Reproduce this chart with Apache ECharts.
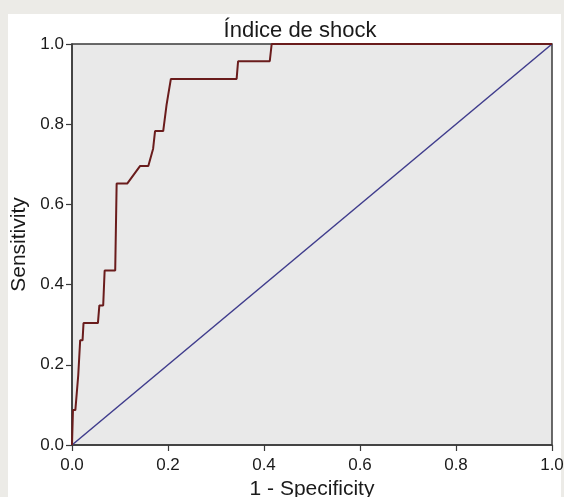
<!DOCTYPE html>
<html>
<head>
<meta charset="utf-8">
<script src="https://cdn.jsdelivr.net/npm/echarts@6/dist/echarts.min.js"></script>
<style>
  html, body { margin:0; padding:0; background:#ecebe7; }
  #panel { position:absolute; left:8px; top:14px; width:553px; height:483px; background:#ffffff; }
  #chart { position:absolute; left:0; top:0; width:564px; height:497px; }
</style>
</head>
<body>
<div id="panel"></div>
<div id="chart"></div>
<script>
// ROC curve coordinates (1 - Specificity, Sensitivity)
const fpr = [0.000, 0.002, 0.007, 0.013, 0.017, 0.022, 0.024, 0.054, 0.057, 0.065,
             0.068, 0.090, 0.093, 0.115, 0.142, 0.159, 0.169, 0.173, 0.173, 0.190,
             0.197, 0.200, 0.204, 0.206, 0.343, 0.346, 0.412, 0.416, 1.000];
const tpr = [0.000, 0.087, 0.087, 0.174, 0.261, 0.261, 0.304, 0.304, 0.348, 0.348,
             0.435, 0.435, 0.652, 0.652, 0.696, 0.696, 0.739, 0.739, 0.783, 0.783,
             0.848, 0.870, 0.870, 0.913, 0.913, 0.957, 0.957, 1.000, 1.000];
// Reference line
const refX = [0, 1];
const refY = [0, 1];
const tickLabels = ['0.0', '0.2', '0.4', '0.6', '0.8', '1.0'];

const font = "'Liberation Sans', Arial, Helvetica, sans-serif";
const chart = echarts.init(document.getElementById('chart'));
const axisCommon = {
  type: 'value', min: 0, max: 1, interval: 0.2,
  axisLine: { show: true, lineStyle: { color: '#3a3a3a', width: 1.5 } },
  axisTick: { show: true, inside: false, length: 6, lineStyle: { color: '#3a3a3a', width: 1.2 } },
  splitLine: { show: false },
  axisLabel: {
    color: '#1a1a1a', fontSize: 17, fontFamily: font,
    formatter: v => tickLabels[Math.round(v / 0.2)]
  },
  nameLocation: 'middle',
  nameTextStyle: { color: '#1a1a1a', fontSize: 21, fontFamily: font }
};
chart.setOption({
  animation: false,
  backgroundColor: 'transparent',
  title: {
    text: 'Índice de shock', left: 295, top: 15, textAlign: 'center',
    textStyle: { color: '#1a1a1a', fontSize: 22, fontWeight: 'normal', fontFamily: font }
  },
  grid: {
    left: 72, top: 44, width: 480, height: 401,
    containLabel: false, outerBoundsMode: 'none',
    show: true, backgroundColor: '#e9e9e9', borderColor: '#3a3a3a', borderWidth: 1.5
  },
  xAxis: Object.assign({}, axisCommon, {
    name: '1 - Specificity', nameGap: 31,
    axisLabel: Object.assign({}, axisCommon.axisLabel, { margin: 12 })
  }),
  yAxis: Object.assign({}, axisCommon, {
    name: 'Sensitivity', nameGap: 41,
    axisLabel: Object.assign({}, axisCommon.axisLabel, { margin: 8 })
  }),
  series: [
    {
      type: 'line', data: refX.map((x, i) => [x, refY[i]]),
      showSymbol: false, lineStyle: { color: '#3f3c8c', width: 1.5 }, z: 2
    },
    {
      type: 'line', data: fpr.map((x, i) => [x, tpr[i]]),
      showSymbol: false, lineStyle: { color: '#6a1c1c', width: 2 }, z: 3
    }
  ]
});
</script>
</body>
</html>
